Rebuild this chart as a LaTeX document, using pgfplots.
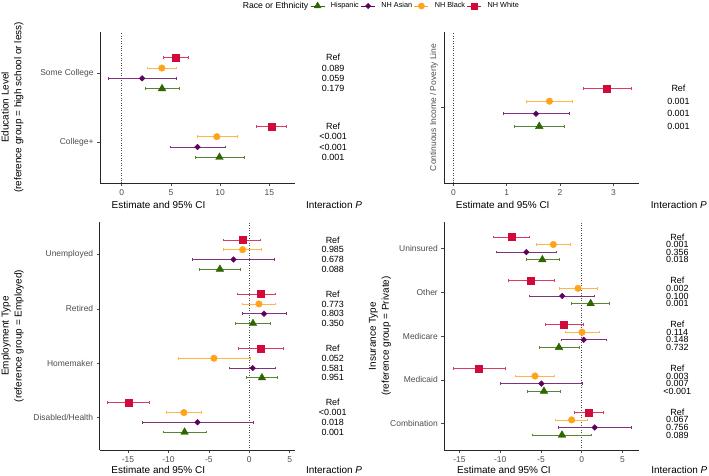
\documentclass[border=0pt]{standalone}
\usepackage{fontspec}
\setmainfont{Liberation Sans}
\usepackage{pgfplots}
\pgfplotsset{compat=1.18}
\usepackage{pgfplotstable}

\definecolor{cW}{HTML}{D20A3C}
\definecolor{cB}{HTML}{FFA31A}
\definecolor{cA}{HTML}{5E005E}
\definecolor{cH}{HTML}{2E6600}
\definecolor{tickgray}{HTML}{4D4D4D}

\newcommand{\tickfont}{\fontsize{8.5}{10}\selectfont}
\newcommand{\pfont}{\fontsize{9}{10}\selectfont}
\newcommand{\labfont}{\fontsize{10}{13}\selectfont}

% E = estimate, L/H = 95% CI, P = interaction p
% w = NH White, b = NH Black, a = NH Asian, h = Hispanic
\pgfplotstableread{
pos wE wL wH wP bE bL bH bP aE aL aH aP hE hL hH hP
2 5.50 4.25 6.80 Ref 4.08 2.60 5.50 0.089 2.08 -1.34 5.53 0.059 4.10 2.40 5.87 0.179
1 15.25 13.70 16.70 Ref 9.66 7.70 11.70 <0.001 7.70 4.95 10.50 <0.001 9.93 7.43 12.44 0.001
}\edu

\pgfplotstableread{
pos wE wL wH wP bE bL bH bP aE aL aH aP hE hL hH hP
1 2.88 2.44 3.33 Ref 1.80 1.37 2.23 0.001 1.55 0.93 2.17 0.001 1.61 1.14 2.08 0.001
}\income

\pgfplotstableread{
pos wE wL wH wP bE bL bH bP aE aL aH aP hE hL hH hP
4 -0.87 -3.20 1.41 Ref -0.82 -3.20 1.53 0.985 -1.94 -7.00 3.06 0.678 -3.63 -6.23 -1.07 0.088
3 1.45 -1.52 3.27 Ref 1.20 -0.90 3.27 0.773 1.82 -0.87 4.59 0.803 0.46 -1.73 2.60 0.350
2 1.45 -1.32 4.26 Ref -4.37 -8.80 0.09 0.052 0.42 -2.48 3.27 0.581 1.57 -0.37 3.50 0.951
1 -14.95 -17.50 -12.40 Ref -8.09 -10.28 -5.95 <0.001 -6.40 -13.17 0.46 0.018 -8.00 -10.65 -5.33 0.001
}\employ

\pgfplotstableread{
pos wE wL wH wP bE bL bH bP aE aL aH aP hE hL hH hP
5 -8.60 -10.80 -6.40 Ref -3.48 -5.60 -1.40 0.001 -6.80 -10.50 -3.07 0.356 -4.83 -6.80 -2.79 0.018
4 -6.22 -8.96 -3.31 Ref -0.45 -2.75 1.91 0.002 -2.38 -6.43 1.60 0.100 1.10 -1.27 3.43 0.001
3 -2.17 -4.50 0.20 Ref 0.04 -2.05 2.12 0.114 0.25 -2.54 3.07 0.148 -2.79 -5.20 -0.29 0.732
2 -12.60 -15.75 -9.40 Ref -5.73 -8.10 -3.40 0.003 -4.95 -10.00 0.12 0.007 -4.63 -6.67 -2.58 <0.001
1 0.81 -0.94 2.65 Ref -1.23 -3.24 0.74 0.067 1.60 -2.90 6.13 0.756 -2.42 -6.00 1.14 0.089
}\insur

% one point range per group: table, prefix, y offset, colour, mark options
\newcommand{\fplot}[5]{%
  \addplot[only marks, color=#4, forget plot, mark options={#5},
    error bars/.cd, x dir=both, x explicit,
    error bar style={line width=0.65pt, color=#4!80!white},
    error mark=|,
    error mark options={line width=0.65pt, mark size=1.3bp, color=#4!80!white}]
    table[x=#2E, y expr=\thisrow{pos}+#3,
      x error plus expr=\thisrow{#2H}-\thisrow{#2E},
      x error minus expr=\thisrow{#2E}-\thisrow{#2L}] {#1};
}
% interaction p column: table, prefix, y offset, x position
\newcommand{\pcol}[4]{%
  \addplot[only marks, mark=none, forget plot, nodes near coords,
    point meta=explicit symbolic,
    every node near coord/.append style={anchor=center, inner sep=0pt, font=\pfont, text=black}]
    table[x expr=#4, y expr=\thisrow{pos}+#3, meta=#2P] {#1};
}
% all four groups: table, outer offset, inner offset, p column x
\newcommand{\groups}[4]{%
  \fplot{#1}{h}{-#2}{cH}{mark=triangle*, mark size=4.4bp}
  \fplot{#1}{a}{-#3}{cA}{mark=square*, rotate=45, mark size=2bp}
  \fplot{#1}{b}{#3}{cB}{mark=*, mark size=3.3bp}
  \fplot{#1}{w}{#2}{cW}{mark=square*, mark size=3.5bp}
  \pcol{#1}{w}{#2}{#4}
  \pcol{#1}{b}{#3}{#4}
  \pcol{#1}{a}{-#3}{#4}
  \pcol{#1}{h}{-#2}{#4}
}

\pgfplotsset{
  forest/.style={
    scale only axis, anchor=south west, clip=false,
    axis lines=left, axis line style={-, draw=black!85, line width=0.55pt},
    tick align=outside, major tick length=3bp,
    tick style={draw=black!70, line width=0.5pt},
    ticklabel style={font=\tickfont, text=tickgray},
    /pgf/number format/assume math mode=true,
    xlabel={Estimate and 95\% CI},
    xlabel style={font=\labfont, anchor=center},
    ylabel style={font=\labfont, align=center, anchor=center},
  },
}

\begin{document}
\begin{tikzpicture}
\useasboundingbox (0,0) rectangle (709bp,476bp);

% education
\begin{axis}[forest, at={(100bp,293bp)}, width=195bp, height=151bp,
    xmin=-2.2, xmax=17.6, ymin=0.4, ymax=2.6,
    xtick={0,5,10,15}, ytick={1,2}, yticklabels={College+,Some College},
    xlabel style={at={(axis description cs:0.30,-0.146)}},
    ylabel={Education Level\\(reference group = high school or less)},
    ylabel style={at={(axis description cs:-0.449,0.5)}},
    legend columns=-1,
    legend style={at={(axis description cs:0.685,1.172)}, anchor=west, draw=none, fill=none,
      font=\fontsize{7.3}{9}\selectfont,
      /tikz/every odd column/.append style={column sep=4bp}},
    legend image code/.code={\draw[mark repeat=2, mark phase=2, #1] plot coordinates {(0bp,0bp) (7bp,0bp) (14bp,0bp)};},
  ]
  \addlegendimage{empty legend}
  \addlegendentry{\fontsize{8.7}{10}\selectfont Race or Ethnicity}
  \addlegendimage{cH, line width=0.65pt, mark=triangle*, mark size=3.8bp}
  \addlegendentry{Hispanic}
  \addlegendimage{cA, line width=0.65pt, mark=square*, mark options={rotate=45}, mark size=1.8bp}
  \addlegendentry{NH Asian}
  \addlegendimage{cB, line width=0.65pt, mark=*, mark size=3bp}
  \addlegendentry{NH Black}
  \addlegendimage{cW, line width=0.65pt, mark=square*, mark size=3bp}
  \addlegendentry{NH White}
  \addplot[dotted, black!70, line width=0.5pt, forget plot] coordinates {(0,0.4) (0,2.6)};
  \groups{\edu}{0.225}{0.075}{21.47}
  \node[font=\labfont] at (axis description cs:1.2,-0.146) {Interaction \textit{P}};
\end{axis}

% income
\begin{axis}[forest, at={(444.3bp,293bp)}, width=194.7bp, height=151bp,
    xmin=-0.17, xmax=3.48, ymin=0.4, ymax=1.6,
    xtick={0,1,2,3}, ytick={1}, yticklabels={Continuous Income / Poverty Line},
    yticklabel style={rotate=90, anchor=south},
    xlabel style={at={(axis description cs:0.30,-0.146)}},
  ]
  \addplot[dotted, black!70, line width=0.5pt] coordinates {(0,0.4) (0,1.6)};
  \groups{\income}{0.15}{0.05}{4.22}
  \node[font=\labfont] at (axis description cs:1.205,-0.146) {Interaction \textit{P}};
\end{axis}

% employment
\begin{axis}[forest, at={(99.7bp,26bp)}, width=195.3bp, height=228bp,
    xmin=-18.5, xmax=5.66, ymin=0.4, ymax=4.6,
    xtick={-15,-10,-5,0,5}, ytick={1,2,3,4},
    yticklabels={Disabled/Health,Homemaker,Retired,Unemployed},
    xlabel style={at={(axis description cs:0.30,-0.088)}},
    ylabel={Employment Type\\(reference group = Employed)},
    ylabel style={at={(axis description cs:-0.446,0.5)}},
  ]
  \addplot[dotted, black!70, line width=0.5pt] coordinates {(0,0.4) (0,4.6)};
  \groups{\employ}{0.27}{0.09}{10.33}
  \node[font=\labfont] at (axis description cs:1.2,-0.088) {Interaction \textit{P}};
\end{axis}

% insurance
\begin{axis}[forest, at={(444.3bp,26bp)}, width=195bp, height=228bp,
    xmin=-16.86, xmax=7.07, ymin=0.4, ymax=5.6,
    xtick={-15,-10,-5,0,5}, ytick={1,2,3,4,5},
    yticklabels={Combination,Medicaid,Medicare,Other,Uninsured},
    xlabel style={at={(axis description cs:0.306,-0.088)}},
    ylabel={Insurance Type\\(reference group = Private)},
    ylabel style={at={(axis description cs:-0.33,0.5)}},
  ]
  \addplot[dotted, black!70, line width=0.5pt] coordinates {(0,0.4) (0,5.6)};
  \groups{\insur}{0.26}{0.087}{11.73}
  \node[font=\labfont] at (axis description cs:1.205,-0.088) {Interaction \textit{P}};
\end{axis}
\end{tikzpicture}
\end{document}
